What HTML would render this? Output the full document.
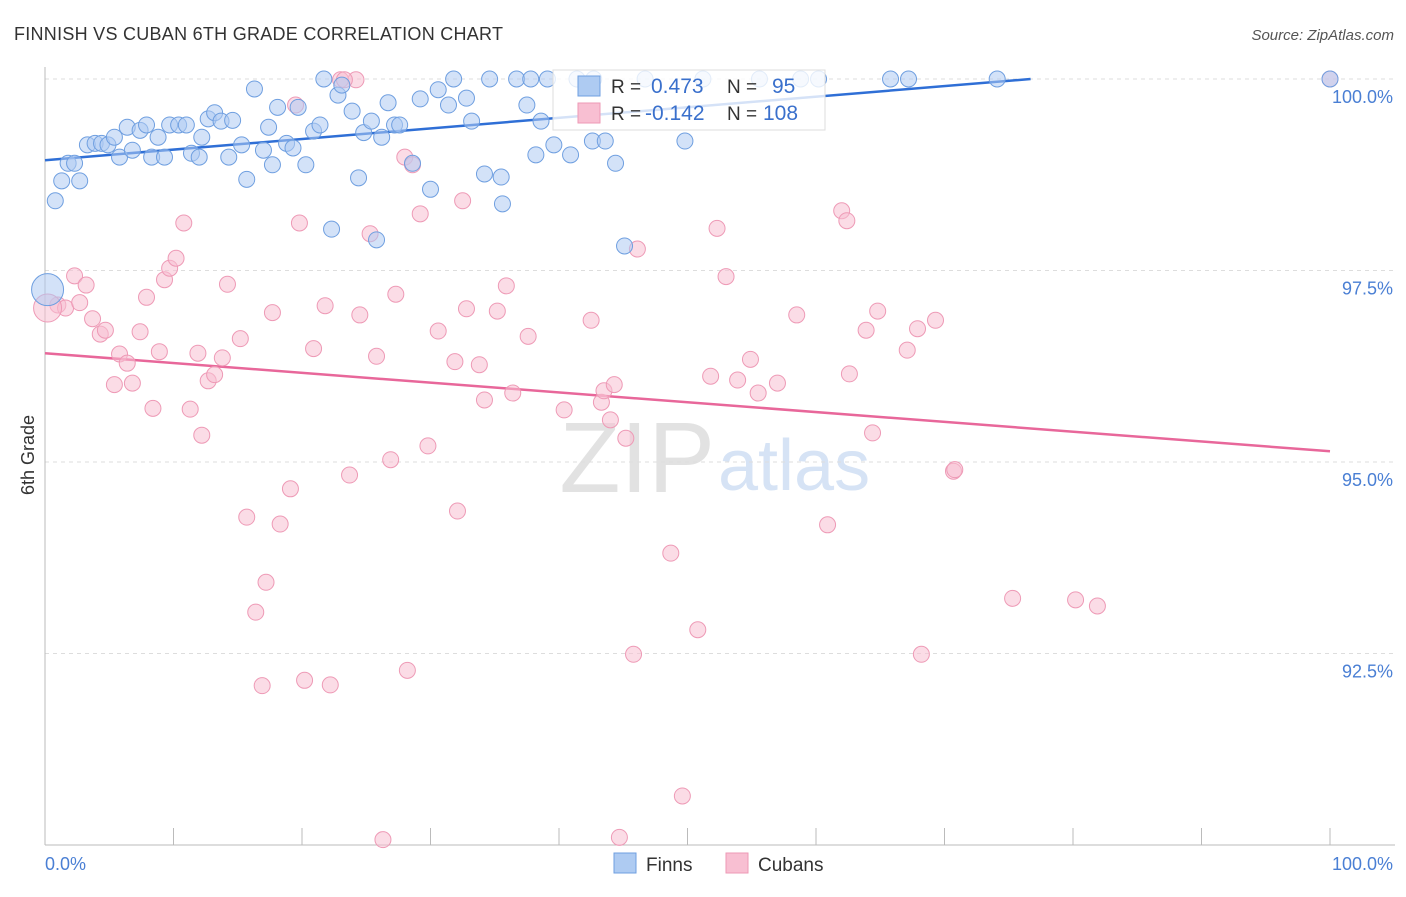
<!DOCTYPE html>
<html><head><meta charset="utf-8"><style>
body{margin:0;background:#fff;font-family:"Liberation Sans",sans-serif;}
svg text{font-family:"Liberation Sans",sans-serif;}
</style></head><body>
<svg id="chart" width="1406" height="892" xmlns="http://www.w3.org/2000/svg">
<text x="14" y="40" font-size="18" fill="#333" textLength="489">FINNISH VS CUBAN 6TH GRADE CORRELATION CHART</text>
<text x="1394" y="40" font-size="15" fill="#555" text-anchor="end" font-style="italic">Source: ZipAtlas.com</text>
<text x="715" y="492" font-size="100" fill="#e2e2e2" text-anchor="end" font-family="Liberation Serif">ZIP</text>
<text x="718" y="490" font-size="72" fill="#d6e3f5">atlas</text>
<g id="grid"></g><g id="axes"></g><g id="trend"></g><g id="pts"></g>
<text transform="translate(34,455) rotate(-90)" font-size="18" fill="#333" text-anchor="middle">6th Grade</text>
<text x="45" y="870" font-size="18" fill="#4a7fd4">0.0%</text>
<text x="1393" y="870" font-size="18" fill="#4a7fd4" text-anchor="end">100.0%</text>
<g>
<rect x="553" y="70" width="272" height="60" fill="#fff" fill-opacity="0.8" stroke="#ddd"/>
<rect x="578" y="76" width="22" height="20" fill="#aecbf2" stroke="#6f9fe0"/>
<rect x="578" y="103" width="22" height="20" fill="#f8bfd2" stroke="#ee9ab6"/>
<text x="611" y="93" font-size="19" fill="#333">R = </text><text x="651" y="93" font-size="21" fill="#3a70cc">0.473</text>
<text x="727" y="93" font-size="19" fill="#333">N = </text><text x="772" y="93" font-size="21" fill="#3a70cc">95</text>
<text x="611" y="120" font-size="19" fill="#333">R = </text><text x="645" y="120" font-size="21" fill="#3a70cc">-0.142</text>
<text x="727" y="120" font-size="19" fill="#333">N = </text><text x="763" y="120" font-size="21" fill="#3a70cc">108</text>
</g>
<g>
<rect x="614" y="853" width="22" height="20" fill="#aecbf2" stroke="#6f9fe0"/>
<text x="646" y="871" font-size="19" fill="#333">Finns</text>
<rect x="726" y="853" width="22" height="20" fill="#f8bfd2" stroke="#ee9ab6"/>
<text x="758" y="871" font-size="19" fill="#333">Cubans</text>
</g>
</svg>
<script>
const yTicks=[100,97.5,95,92.5];
const yTickLabels=["100.0%","97.5%","95.0%","92.5%"];
const xTicks=[0,10,20,30,40,50,60,70,80,90,100];
const finnX=[0.8,1.3,1.8,2.3,2.7,3.3,3.9,4.4,4.9,5.4,5.8,6.4,6.8,7.4,7.9,8.3,8.8,9.3,9.7,10.4,11.0,11.4,12.0,12.2,12.7,13.2,13.7,14.3,14.6,15.3,15.7,16.3,17.0,17.4,17.7,18.1,18.8,19.3,19.7,20.3,20.9,21.4,21.7,22.8,23.1,23.9,24.4,24.8,25.4,26.2,26.7,27.2,27.6,28.6,29.2,30.0,30.6,31.4,31.8,32.8,33.2,34.2,34.6,35.5,35.6,36.7,37.5,37.8,38.2,38.6,39.1,39.6,40.9,41.4,42.6,43.6,44.4,45.1,46.7,49.8,51.2,55.6,58.8,60.2,65.8,67.2,74.1,100,22.3,25.8,42.7];
const finnY=[98.41,98.67,98.90,98.90,98.67,99.14,99.16,99.16,99.14,99.24,98.98,99.37,99.07,99.33,99.40,98.98,99.24,98.98,99.40,99.40,99.40,99.03,98.98,99.24,99.48,99.56,99.45,98.98,99.46,99.14,98.69,99.87,99.07,99.37,98.88,99.63,99.16,99.10,99.63,98.88,99.32,99.40,100,99.79,99.92,99.58,98.71,99.30,99.45,99.24,99.69,99.40,99.40,98.90,99.74,98.56,99.86,99.66,100,99.75,99.45,98.76,100,98.72,98.37,100,99.66,100,99.01,99.45,100,99.14,99.01,100,99.19,99.19,98.90,97.82,100,99.19,100,100,100,100,100,100,100,100,98.04,97.90,100];
const cubaX=[1.0,1.6,2.3,2.7,3.2,3.7,4.3,4.7,5.4,5.8,6.4,6.8,7.4,7.9,8.4,8.9,9.3,9.7,10.2,10.8,11.3,11.9,12.2,12.7,13.2,13.8,14.2,15.2,15.7,16.4,16.9,17.2,17.7,18.3,19.1,19.8,20.2,20.9,21.8,22.2,23.0,23.7,24.2,24.5,25.3,25.8,26.3,26.9,27.3,28.0,28.2,28.6,29.2,29.8,30.6,31.9,32.1,32.5,32.8,33.8,34.2,35.2,35.9,36.4,37.6,40.4,42.5,43.3,43.5,44.0,44.3,44.7,45.2,45.8,46.1,48.7,49.6,50.8,51.8,52.3,53.0,53.9,54.9,55.5,57.0,58.5,60.9,62.0,62.4,62.6,63.9,64.4,64.8,67.1,67.9,68.2,69.3,70.7,70.8,75.3,80.2,81.9,100,19.5,23.3];
const cubaY=[97.05,97.01,97.43,97.08,97.31,96.87,96.67,96.72,96.01,96.41,96.29,96.03,96.70,97.15,95.70,96.44,97.38,97.53,97.66,98.12,95.69,96.42,95.35,96.06,96.14,96.36,97.32,96.61,94.28,93.04,92.08,93.43,96.95,94.19,94.65,98.12,92.15,96.48,97.04,92.09,99.99,94.83,99.99,96.92,97.98,96.38,90.07,95.03,97.19,98.98,92.28,98.88,98.24,95.21,96.71,96.31,94.36,98.41,97.00,96.27,95.81,96.97,97.30,95.90,96.64,95.68,96.85,95.78,95.93,95.55,96.01,90.10,95.31,92.49,97.78,93.81,90.64,92.81,96.12,98.05,97.42,96.07,96.34,95.90,96.03,96.92,94.18,98.28,98.15,96.15,96.72,95.38,96.97,96.46,96.74,92.49,96.85,94.88,94.90,93.22,93.20,93.12,100,99.66,99.99];
const finnBig=[0.2,97.25], cubaBig=[0.2,97.01];
const finnTrend=[[0,98.94],[76.7,100]], cubaTrend=[[0,96.42],[100,95.14]];
const NS="http://www.w3.org/2000/svg";
const X=v=>45+v*12.85, Y=v=>79+(100-v)*76.6;
function mk(t,a,p){const e=document.createElementNS(NS,t);for(const k in a)e.setAttribute(k,a[k]);document.getElementById(p).appendChild(e);return e;}
yTicks.forEach((t,i)=>{
 const l=mk('line',{x1:45,x2:1395,y1:Y(t),y2:Y(t),stroke:'#ddd','stroke-dasharray':'4,4'},'grid');
 
 
 const tx=mk('text',{x:1393,y:Y(t)+24,'font-size':18,fill:'#4a7fd4','text-anchor':'end'},'grid');
 tx.textContent=yTickLabels[i];
 
 
});
const ax=mk('line',{x1:45,x2:45,y1:67,y2:845,stroke:'#bbb'},'axes');


const bx=mk('line',{x1:45,x2:1395,y1:845,y2:845,stroke:'#bbb'},'axes');


xTicks.forEach(t=>{
 const l=mk('line',{x1:X(t),x2:X(t),y1:828,y2:845,stroke:'#bbb'},'axes');
 
 
});
function dot(x,y,r,f,s,n){const c=mk('circle',{cx:X(x),cy:Y(y),r:r,fill:f,'fill-opacity':0.55,stroke:s,'stroke-width':1},'pts');
 
 }
cubaX.forEach((x,i)=>dot(x,cubaY[i],8,'#f8bfd2','#ee9ab6','cuban-point'));
dot(cubaBig[0],cubaBig[1],14,'#f8bfd2','#ee9ab6','cuban-point-large');
finnX.forEach((x,i)=>dot(x,finnY[i],8,'#aecbf2','#6f9fe0','finn-point'));
dot(finnBig[0],finnBig[1],16,'#aecbf2','#6f9fe0','finn-point-large');
const t1=mk('line',{x1:X(finnTrend[0][0]),y1:Y(finnTrend[0][1]),x2:X(finnTrend[1][0]),y2:Y(finnTrend[1][1]),stroke:'#2f6fd6','stroke-width':2.5},'trend');


const t2=mk('line',{x1:X(cubaTrend[0][0]),y1:Y(cubaTrend[0][1]),x2:X(cubaTrend[1][0]),y2:Y(cubaTrend[1][1]),stroke:'#e8679a','stroke-width':2.5},'trend');


</script>
</body></html>
